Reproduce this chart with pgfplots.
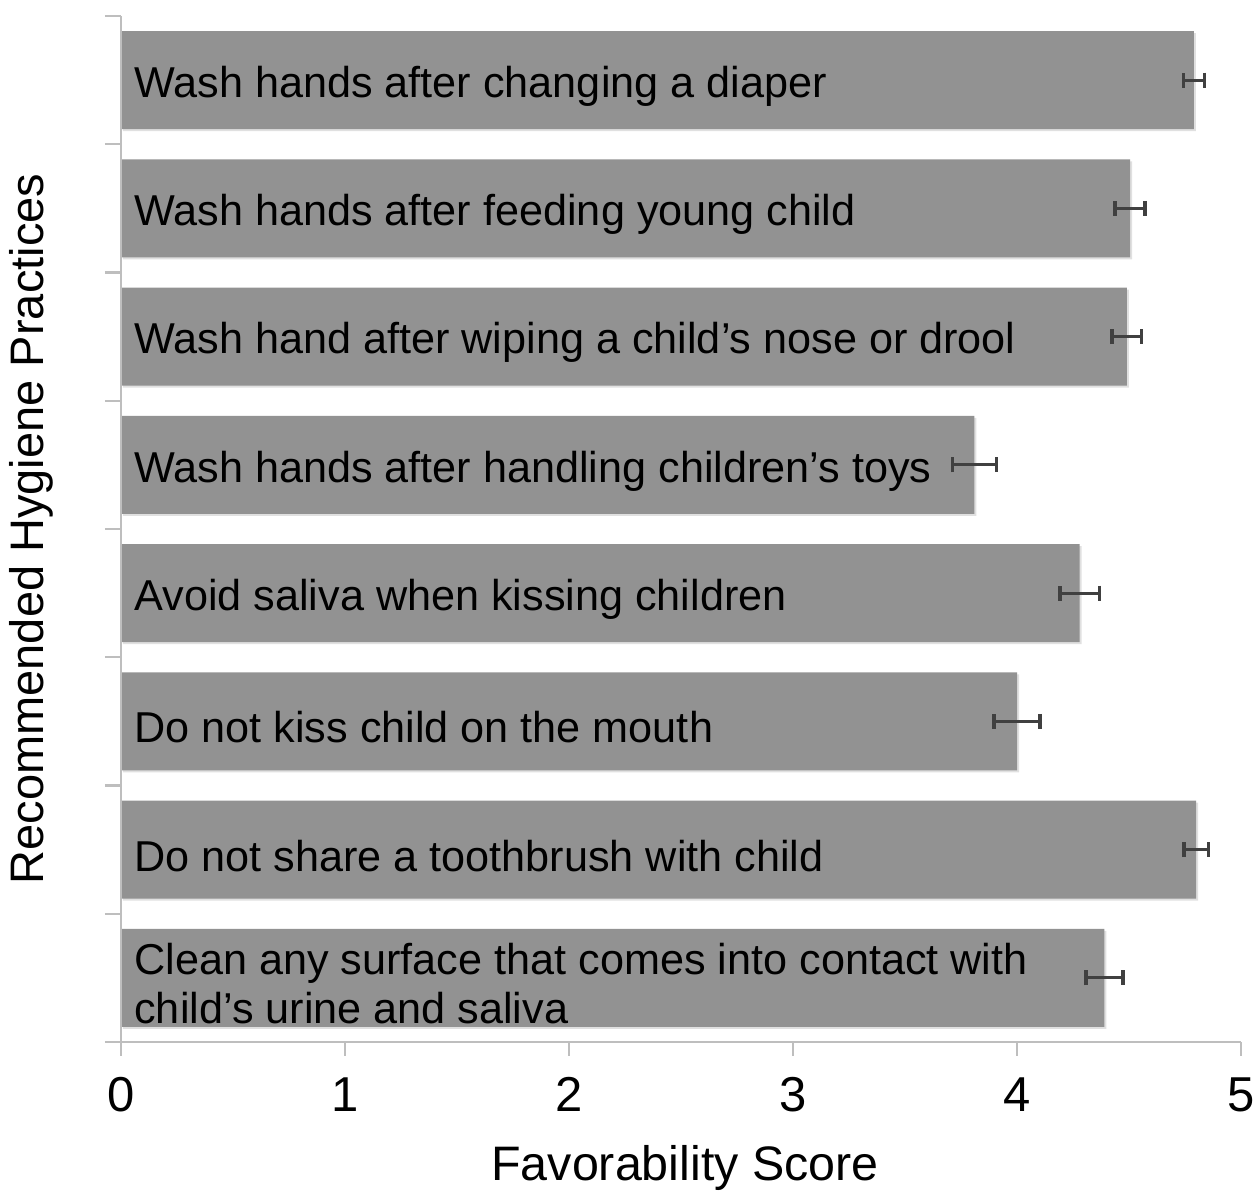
\documentclass[border=0pt]{standalone}
\usepackage{pgfplots}
\pgfplotsset{compat=1.18}
\usepackage{pgfplotstable}
\usepackage{fontspec}
\setmainfont{Liberation Sans}
\usetikzlibrary{shadows}
\definecolor{barc}{HTML}{929292}
\definecolor{axc}{HTML}{BEBEBE}
\pgfplotstableread{
y val err
0 4.39 0.083
1 4.80 0.054
2 4.00 0.103
3 4.28 0.089
4 3.81 0.098
5 4.49 0.065
6 4.505 0.067
7 4.79 0.047
}\data
\begin{document}
\begin{tikzpicture}
\begin{axis}[
  scale only axis, width=560pt, height=513pt,
  xmin=0, xmax=5, ymin=-0.5, ymax=7.5,
  axis on top,
  axis x line*=bottom, axis y line*=left,
  axis line style={axc, line width=1.2pt},
  tick align=outside,
  major tick length=7pt, minor tick length=8pt,
  xtick={0,...,5},
  x tick style={axc, line width=1.2pt},
  xticklabel style={font=\fontsize{24.5}{30}\selectfont, anchor=base, yshift=-28pt},
  /pgf/number format/assume math mode=true,
  ytick={0,...,7},
  yticklabels={{Clean any surface that comes into contact with\\child’s urine and saliva},
    {Do not share a toothbrush with child},
    {Do not kiss child on the mouth},
    {Avoid saliva when kissing children},
    {Wash hands after handling children’s toys},
    {Wash hand after wiping a child’s nose or drool},
    {Wash hands after feeding young child},
    {Wash hands after changing a diaper}},
  yticklabel style={font=\fontsize{21.6}{24.5}\selectfont, anchor=west, align=left, inner sep=0pt, xshift=13.5pt, yshift=-3pt},
  major y tick style={draw=none},
  minor ytick={-0.5,0.5,...,7.5},
  minor y tick style={axc, line width=1.2pt},
  xlabel={Favorability Score},
  ylabel={Recommended Hygiene Practices},
  xlabel style={font=\fontsize{24.2}{28}\selectfont, at={(axis description cs:0.5,0)}, anchor=base, yshift=-69.5pt, xshift=2pt},
  ylabel style={font=\fontsize{23.5}{28}\selectfont, at={(axis description cs:0,0.5)}, anchor=base, yshift=38.5pt},
  clip=false,
]
\addplot[xbar, bar width=0.764, fill=barc, draw=none,
  drop shadow={shadow xshift=1pt, shadow yshift=-1pt, fill=black, opacity=0.12},
  error bars/.cd, x dir=both, x explicit,
  error bar style={line width=1.4pt, color=black!75},
  error mark options={rotate=90, line width=1.8pt, mark size=3.75pt, black!75}]
  table[x=val, y=y, x error=err] {\data};
\coordinate (tl) at ([shift={(-60.5pt,8pt)}]axis description cs:0,1);
\coordinate (br) at ([shift={(9.5pt,-75.5pt)}]axis description cs:1,0);
\end{axis}
\pgfresetboundingbox
\path[use as bounding box] (tl) rectangle (br);
\end{tikzpicture}
\end{document}
